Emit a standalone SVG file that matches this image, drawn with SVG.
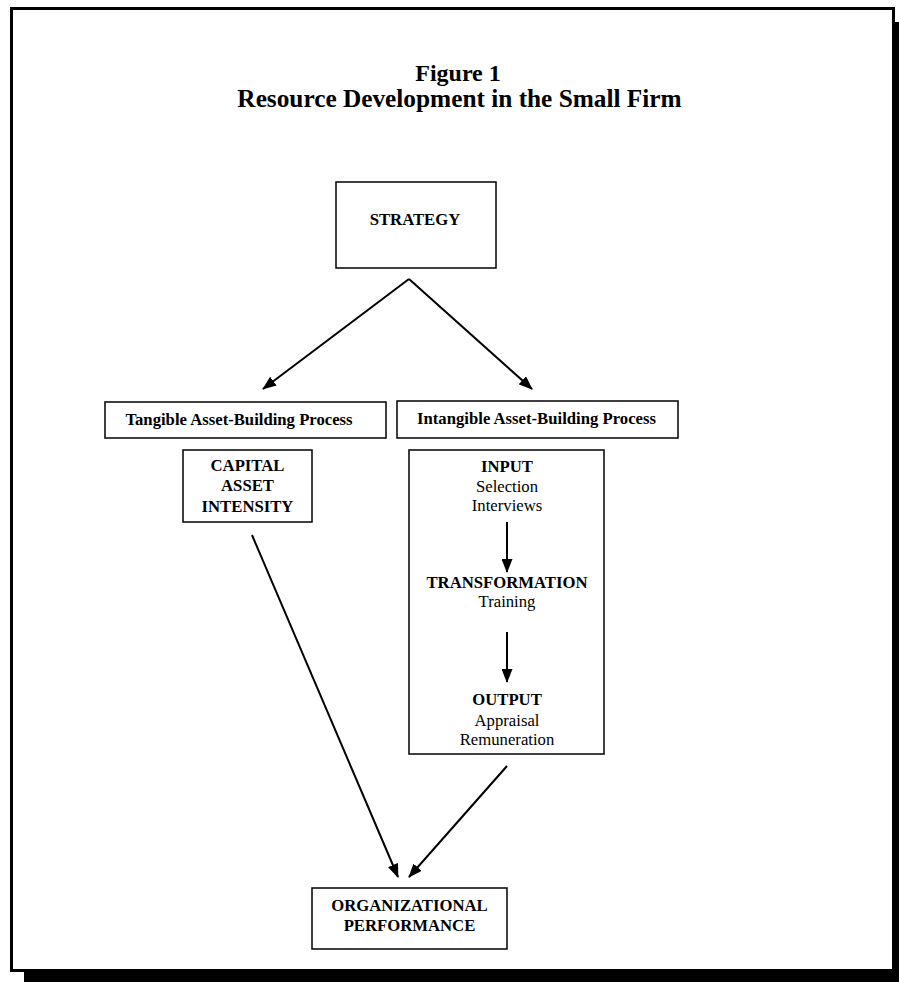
<svg xmlns="http://www.w3.org/2000/svg" width="899" height="982" viewBox="0 0 899 982">
<defs>
<style>
.box{fill:#fff;stroke:#000;stroke-width:1.5}
.t{font-family:"Liberation Serif","Times New Roman",serif;font-size:16.7px;fill:#000;text-anchor:middle}
.b{font-weight:bold}
.title{font-family:"Liberation Serif","Times New Roman",serif;font-weight:bold;fill:#000;text-anchor:middle}
.ln{stroke:#000;stroke-width:2;fill:none}
</style>
<marker id="ah" viewBox="0 0 14 11" refX="13" refY="5.5" markerWidth="14" markerHeight="11" markerUnits="userSpaceOnUse" orient="auto">
<path d="M0,0 L14,5.5 L0,11 z" fill="#000"/>
</marker>
</defs>
<rect x="0" y="0" width="899" height="982" fill="#fff"/>
<rect x="24" y="22" width="890" height="970" fill="#000"/>
<rect x="11.5" y="8.5" width="882" height="962" fill="#fff" stroke="#000" stroke-width="3"/>
<g id="title">
<text class="title" x="458" y="81" font-size="24">Figure 1</text>
<text class="title" x="459.5" y="107" font-size="25.3">Resource Development in the Small Firm</text>
</g>
<g id="strategy">
<rect class="box" x="336" y="182" width="160" height="86"/>
<text class="t b" x="415" y="225">STRATEGY</text>
</g>
<g id="tangible">
<rect class="box" x="105" y="402" width="281" height="36"/>
<text class="t b" x="239" y="425">Tangible Asset-Building Process</text>
</g>
<g id="intangible">
<rect class="box" x="397" y="401" width="281" height="37"/>
<text class="t b" x="536.5" y="424">Intangible Asset-Building Process</text>
</g>
<g id="capital">
<rect class="box" x="183" y="450" width="129" height="72"/>
<text class="t b" x="247.5" y="471">CAPITAL</text>
<text class="t b" x="247.5" y="491">ASSET</text>
<text class="t b" x="247.5" y="512">INTENSITY</text>
</g>
<g id="hr-process">
<rect class="box" x="409" y="450" width="195" height="304"/>
<text class="t b" x="507" y="472">INPUT</text>
<text class="t" x="507" y="492">Selection</text>
<text class="t" x="507" y="511">Interviews</text>
<text class="t b" x="507" y="588">TRANSFORMATION</text>
<text class="t" x="507" y="607">Training</text>
<text class="t b" x="507" y="705">OUTPUT</text>
<text class="t" x="507" y="726">Appraisal</text>
<text class="t" x="507" y="745">Remuneration</text>
</g>
<g id="performance">
<rect class="box" x="312" y="888" width="195" height="61"/>
<text class="t b" x="409.5" y="911">ORGANIZATIONAL</text>
<text class="t b" x="409.5" y="931">PERFORMANCE</text>
</g>
<g id="connectors">
<line class="ln" x1="409" y1="279" x2="263" y2="389" marker-end="url(#ah)"/>
<line class="ln" x1="409" y1="279" x2="532" y2="389" marker-end="url(#ah)"/>
<line class="ln" x1="507" y1="522" x2="507" y2="572" marker-end="url(#ah)"/>
<line class="ln" x1="507" y1="632" x2="507" y2="682" marker-end="url(#ah)"/>
<line class="ln" x1="252" y1="535" x2="398" y2="877" marker-end="url(#ah)"/>
<line class="ln" x1="507" y1="766" x2="409" y2="877" marker-end="url(#ah)"/>
</g>
</svg>
